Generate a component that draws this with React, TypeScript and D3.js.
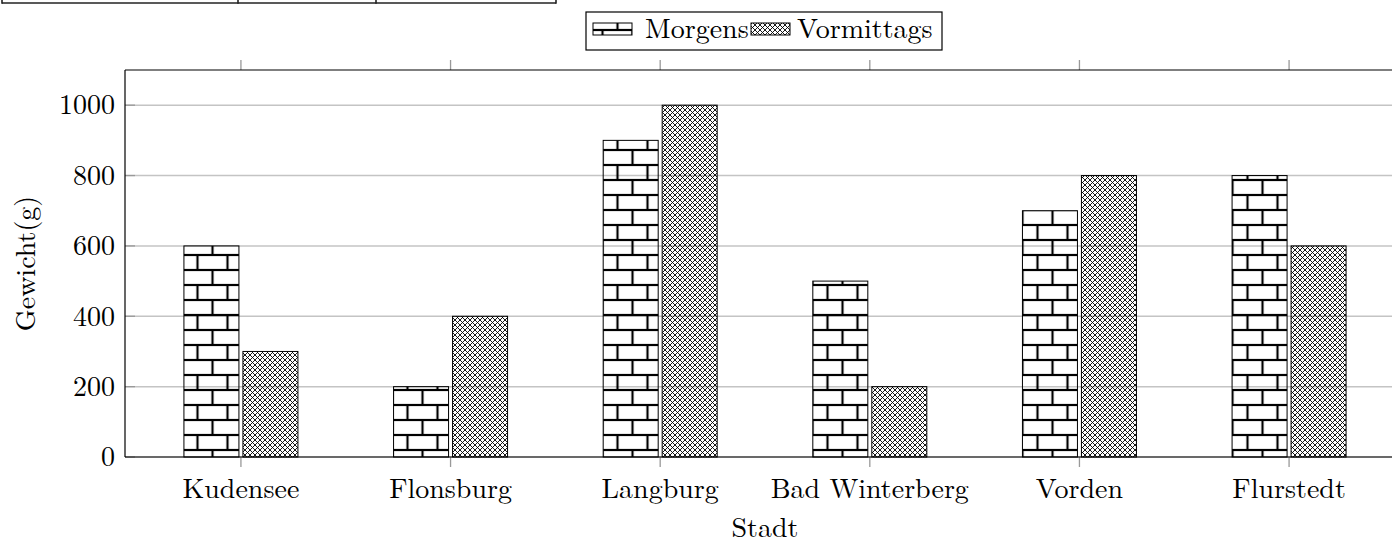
import React from "react";
import * as d3 from "d3";

const categories = ["Kudensee", "Flonsburg", "Langburg", "Bad Winterberg", "Vorden", "Flurstedt"];
const morgens = [600, 200, 900, 500, 700, 800];
const vormittags = [300, 400, 1000, 200, 800, 600];
const yTicks = [0, 200, 400, 600, 800, 1000];
const seriesNames = ["Morgens", "Vormittags"];

const W = 1392;
const H = 546;
const FONT = "'Latin Modern Roman', 'Liberation Serif', 'Times New Roman', serif";

export default function App() {
  const left = 125, right = 1405, top = 70, bottom = 457;
  const x = d3.scalePoint<string>().domain(categories).range([left, right]).padding(0.553);
  const y = d3.scaleLinear().domain([0, 1100]).range([bottom, top]);
  const barW = 55;
  const gap = 2;
  const series = [morgens, vormittags];
  const fills = ["url(#bricks)", "url(#crosshatch)"];
  const ch = 5;

  return (
    <svg width={W} height={H} style={{ position: "absolute", left: 0, top: 0, background: "#fff" }}
      fontFamily={FONT}>
      <defs>
        <pattern id="bricks" patternUnits="userSpaceOnUse" width={30} height={30} x={2.5} y={0}>
          <line x1={0} y1={0} x2={30} y2={0} stroke="#000" strokeWidth={2.2} />
          <line x1={0} y1={15} x2={30} y2={15} stroke="#000" strokeWidth={2.2} />
          <line x1={0} y1={30} x2={30} y2={30} stroke="#000" strokeWidth={2.2} />
          <line x1={0} y1={0} x2={0} y2={15} stroke="#000" strokeWidth={2.2} />
          <line x1={30} y1={0} x2={30} y2={15} stroke="#000" strokeWidth={2.2} />
          <line x1={15} y1={15} x2={15} y2={30} stroke="#000" strokeWidth={2.2} />
        </pattern>
        <pattern id="crosshatch" patternUnits="userSpaceOnUse" width={ch} height={ch}>
          <line x1={0} y1={0} x2={ch} y2={ch} stroke="#000" strokeWidth={0.9} />
          <line x1={0} y1={ch} x2={ch} y2={0} stroke="#000" strokeWidth={0.9} />
        </pattern>
      </defs>

      {/* table fragment at top-left */}
      <g stroke="#222" strokeWidth={1.6} fill="none">
        <line x1={2} y1={3} x2={556} y2={3} />
        <line x1={2} y1={0} x2={2} y2={3.8} />
        <line x1={238} y1={0} x2={238} y2={3.8} />
        <line x1={376} y1={0} x2={376} y2={3.8} />
        <line x1={556} y1={0} x2={556} y2={3.8} />
      </g>

      {/* grid */}
      <g stroke="#c4c4c4" strokeWidth={1.5}>
        {yTicks.map((t) => (
          <line key={t} x1={left} x2={right} y1={y(t)} y2={y(t)} />
        ))}
      </g>

      {/* bars */}
      {series.map((vals, si) => (
        <g key={si}>
          {categories.map((c, i) => {
            const cx = x(c)!;
            const x0 = si === 0 ? cx - gap - barW : cx + gap;
            return (
              <rect key={c} x={x0} y={y(vals[i])} width={barW} height={y(0) - y(vals[i])}
                fill={fills[si]} stroke="#000" strokeWidth={1} />
            );
          })}
        </g>
      ))}

      {/* ticks */}
      <g stroke="#999" strokeWidth={1.3}>
        {yTicks.map((t) => (
          <line key={t} x1={left} x2={left + 10} y1={y(t)} y2={y(t)} />
        ))}
        {categories.map((c) => (
          <g key={c}>
            <line x1={x(c)} x2={x(c)} y1={top - 10} y2={top} />
            <line x1={x(c)} x2={x(c)} y1={bottom} y2={bottom + 10} />
          </g>
        ))}
      </g>

      {/* axis lines */}
      <g stroke="#000" strokeWidth={1.2} fill="none">
        <line x1={left} x2={right} y1={top} y2={top} />
        <line x1={left} x2={right} y1={bottom} y2={bottom} />
        <line x1={left} x2={left} y1={top} y2={bottom} />
        <line x1={right} x2={right} y1={top} y2={bottom} />
      </g>

      {/* y tick labels */}
      <g fontSize={28} fill="#000" textAnchor="end">
        {yTicks.map((t) => (
          <text key={t} x={115} y={y(t)} dy="0.33em">{t}</text>
        ))}
      </g>

      {/* x tick labels */}
      <g fontSize={28} fill="#000" textAnchor="middle">
        {categories.map((c) => (
          <text key={c} x={x(c)} y={498}>{c}</text>
        ))}
      </g>

      {/* axis titles */}
      <text x={(left + right) / 2} y={537} fontSize={28} textAnchor="middle">Stadt</text>
      <text transform={`translate(35, ${(top + bottom) / 2}) rotate(-90)`} fontSize={28} textAnchor="middle">Gewicht(g)</text>

      {/* legend */}
      <g>
        <rect x={586} y={12} width={356} height={38} fill="#fff" stroke="#000" strokeWidth={1.2} />
        <rect x={593} y={23} width={39} height={12} fill="url(#bricks)" stroke="#000" strokeWidth={1} />
        <text x={645} y={37.5} fontSize={28}>{seriesNames[0]}</text>
        <rect x={751} y={23} width={39} height={12} fill="url(#crosshatch)" stroke="#000" strokeWidth={1} />
        <text x={797} y={37.5} fontSize={28}>{seriesNames[1]}</text>
      </g>
    </svg>
  );
}
